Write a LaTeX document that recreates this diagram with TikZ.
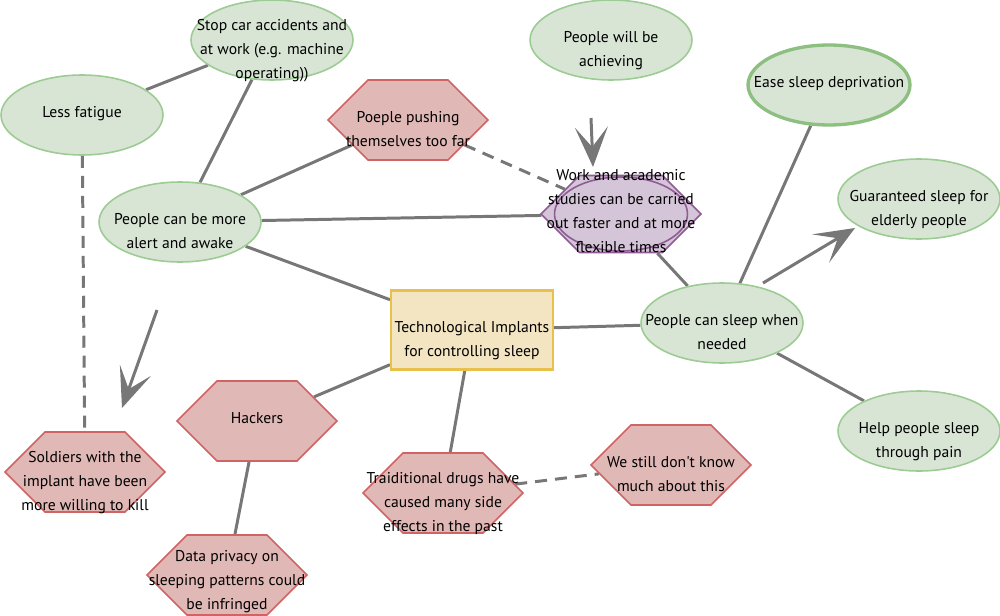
\documentclass[tikz,border=0pt]{standalone}
\usepackage{fontspec}
\setmainfont{PT Sans}
\usepackage{tikz}
\usetikzlibrary{shapes,arrows.meta,backgrounds}
\definecolor{ideaGreen}{HTML}{9CCB93}
\definecolor{ideaGreenDark}{HTML}{8CBF80}
\definecolor{ideaGreenFill}{HTML}{D8E5D5}
\definecolor{riskRed}{HTML}{D06464}
\definecolor{riskRedFill}{HTML}{E0B8B6}
\definecolor{studyPurple}{HTML}{8E5C93}
\definecolor{studyPurpleFill}{HTML}{D4C5D8}
\definecolor{hubGold}{HTML}{E8C04C}
\definecolor{hubGoldFill}{HTML}{F3E5C1}
\definecolor{linkGray}{HTML}{777777}

% text that may spill over its shape
\newcommand{\nodetext}[2][-0.28cm]{\smash{\raisebox{#1}{\makebox[0pt]{\begin{tabular}{@{}c@{}}#2\end{tabular}}}}}

\begin{document}
\begin{tikzpicture}[
            x=0.02cm, y=-0.02cm,
            font=\fontsize{8.9}{13.6}\selectfont,
            idea/.style={
                    ellipse,
                    draw=ideaGreen,
                    fill=ideaGreenFill,
                    line width=0.9pt,
                    minimum width=3.24cm,
                    minimum height=1.6cm,
                    inner sep=0pt
                },
            risk/.style={
                    signal,
                    signal to=west and east,
                    signal pointer angle=90,
                    draw=riskRed,
                    fill=riskRedFill,
                    line width=0.9pt,
                    minimum width=3.2cm,
                    minimum height=1.6cm,
                    inner sep=0pt
                },
            hub/.style={
                    rectangle,
                    draw=hubGold,
                    fill=hubGoldFill,
                    line width=1.2pt,
                    minimum width=3.24cm,
                    minimum height=1.58cm,
                    inner sep=0pt
                },
            link/.style={draw=linkGray, line width=1.7pt},
            weak/.style={link, dash pattern=on 0.24cm off 0.16cm},
            arrow/.style={link, -{Stealth[length=0.8cm, width=0.66cm, inset=0.4cm]}}
        ]
        \useasboundingbox (0,0) rectangle (1000,615);

        \node[hub] (implant) at (472,330) {\nodetext{Technological Implants\\for controlling sleep}};

        \node[idea] (fatigue) at (82,115) {\nodetext[-0.04cm]{Less fatigue}};
        \node[idea] (accidents) at (272,40) {\nodetext{Stop car accidents and\\at work (e.g. machine\\operating))}};
        \node[idea] (alert) at (180,222) {\nodetext{People can be more\\alert and awake}};
        \node[risk] (pushing) at (408,120) {\nodetext{Poeple pushing\\themselves too far}};
        \node[idea] (achieving) at (611,40) {\nodetext{People will be\\achieving}};
        \node[risk, draw=studyPurple, fill=studyPurpleFill, minimum height=1.54cm] (studies) at (621,214) {};
        \draw[studyPurple, fill=studyPurpleFill, line width=0.9pt] (studies.center) ellipse (1.33cm and 0.74cm);
        \node at (studies.center) {\nodetext[-0.04cm]{Work and academic\\studies can be carried\\out faster and at more\\flexible times}};
        \node[idea, draw=ideaGreenDark, line width=1.9pt] (deprivation) at (829,85) {\nodetext[-0.04cm]{Ease sleep deprivation}};
        \node[idea] (elderly) at (919,199) {\nodetext{Guaranteed sleep for\\elderly people}};
        \node[idea] (whenneeded) at (722,323) {\nodetext{People can sleep when\\needed}};
        \node[idea] (pain) at (919,431) {\nodetext{Help people sleep\\through pain}};
        \node[risk] (unknown) at (671,465) {\nodetext{We still don\textquotesingle t know\\much about this}};
        \node[risk] (drugs) at (443,493) {\nodetext{Traiditional drugs have\\caused many side\\effects in the past}};
        \node[risk] (hackers) at (257,421) {\nodetext[-0.04cm]{Hackers}};
        \node[risk] (privacy) at (227,575) {\nodetext[-0.2cm]{Data privacy on\\sleeping patterns could\\be infringed}};
        \node[risk] (soldiers) at (85,472) {\nodetext{Soldiers with the\\implant have been\\more willing to kill}};

        \coordinate (toSoldiersFrom) at (157,310);
        \coordinate (toSoldiers) at (122,408);
        \coordinate (toStudiesFrom) at (591,118);
        \coordinate (toStudies) at (593,167);
        \coordinate (toElderlyFrom) at (763,283);
        \coordinate (toElderly) at (855,228);

        \begin{scope}[on background layer]
            \draw[link] (fatigue) -- (accidents);
            \draw[link] (accidents) -- (alert);
            \draw[link] (alert) -- (pushing);
            \draw[link] (alert) -- (studies);
            \draw[link] (alert) -- (implant);
            \draw[weak] (pushing) -- (studies);
            \draw[weak] (fatigue) -- (soldiers);
            \draw[link] (studies) -- (whenneeded);
            \draw[link] (deprivation) -- (whenneeded);
            \draw[link] (implant) -- (whenneeded);
            \draw[link] (whenneeded) -- (pain);
            \draw[link] (implant) -- (hackers);
            \draw[link] (implant) -- (drugs);
            \draw[weak] (drugs) -- (unknown);
            \draw[link] (hackers) -- (privacy);
        \end{scope}

        \draw[arrow] (toSoldiersFrom) -- (toSoldiers);
        \draw[arrow] (toStudiesFrom) -- (toStudies);
        \draw[arrow] (toElderlyFrom) -- (toElderly);
    \end{tikzpicture}
\end{document}
